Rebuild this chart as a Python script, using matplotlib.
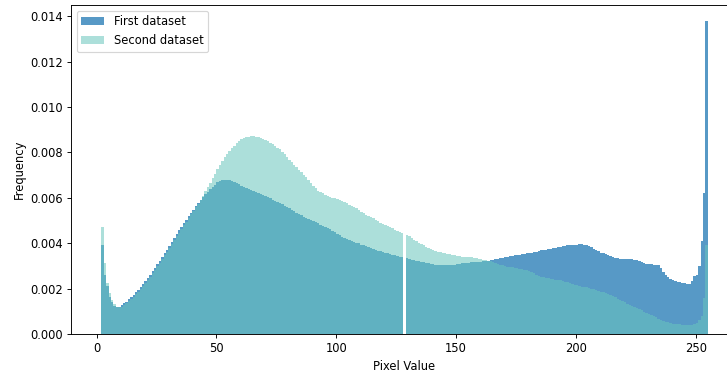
import matplotlib
matplotlib.use("Agg")
import matplotlib.pyplot as plt
import numpy as np

# pixel values (left edge of each bin), bins 2..254
pixels = list(range(2, 255))

# first dataset, normalised frequency per pixel value
first_freq = [
    .00390, .00260, .00210, .00165, .00142, .00125, .00120, .00121, .00127, .00135,  # 2-11
    .00143, .00152, .00162, .00172, .00183, .00195, .00208, .00221, .00234, .00248,  # 12-21
    .00262, .00277, .00292, .00307, .00323, .00339, .00355, .00372, .00389, .00406,  # 22-31
    .00423, .00440, .00456, .00472, .00488, .00504, .00519, .00534, .00548, .00562,  # 32-41
    .00576, .00590, .00603, .00615, .00627, .00638, .00648, .00657, .00668, .00675,  # 42-51
    .00680, .00680, .00679, .00677, .00674, .00670, .00665, .00659, .00653, .00647,  # 52-61
    .00642, .00638, .00634, .00630, .00626, .00622, .00618, .00613, .00608, .00603,  # 62-71
    .00598, .00592, .00586, .00581, .00576, .00571, .00565, .00559, .00553, .00547,  # 72-81
    .00541, .00535, .00529, .00523, .00517, .00512, .00507, .00502, .00497, .00492,  # 82-91
    .00487, .00481, .00476, .00471, .00466, .00461, .00455, .00448, .00441, .00435,  # 92-101
    .00429, .00424, .00419, .00415, .00411, .00407, .00403, .00399, .00394, .00390,  # 102-111
    .00386, .00382, .00378, .00374, .00370, .00367, .00364, .00361, .00358, .00355,  # 112-121
    .00352, .00349, .00346, .00343, .00340, .00337, 0.0, .00333, .00330, .00328,     # 122-131
    .00325, .00323, .00320, .00318, .00316, .00314, .00312, .00310, .00308, .00306,  # 132-141
    .00305, .00304, .00303, .00303, .00303, .00304, .00305, .00306, .00308, .00310,  # 142-151
    .00311, .00312, .00313, .00314, .00315, .00316, .00317, .00318, .00319, .00320,  # 152-161
    .00321, .00323, .00325, .00327, .00329, .00331, .00333, .00336, .00339, .00341,  # 162-171
    .00343, .00345, .00347, .00348, .00350, .00352, .00353, .00355, .00357, .00359,  # 172-181
    .00361, .00363, .00366, .00368, .00370, .00372, .00374, .00376, .00378, .00380,  # 182-191
    .00383, .00385, .00387, .00389, .00390, .00391, .00392, .00393, .00394, .00395,  # 192-201
    .00395, .00394, .00391, .00387, .00382, .00376, .00370, .00364, .00359, .00355,  # 202-211
    .00351, .00347, .00343, .00339, .00336, .00333, .00331, .00330, .00330, .00330,  # 212-221
    .00330, .00329, .00327, .00324, .00320, .00316, .00313, .00310, .00308, .00307,  # 222-231
    .00306, .00305, .00302, .00290, .00275, .00262, .00252, .00244, .00238, .00234,  # 232-241
    .00230, .00227, .00225, .00223, .00222, .00222, .00235, .00255, .00262, .00300,  # 242-251
    .00410, .00620, .01380,                                                          # 252-254
]

# second dataset
second_freq = [
    .00471, .00313, .00225, .00180, .00150, .00130, .00120, .00118, .00121, .00127,  # 2-11
    .00135, .00144, .00154, .00164, .00175, .00187, .00199, .00212, .00225, .00239,  # 12-21
    .00253, .00268, .00283, .00298, .00314, .00330, .00346, .00363, .00380, .00397,  # 22-31
    .00414, .00431, .00447, .00463, .00479, .00495, .00511, .00527, .00543, .00558,  # 32-41
    .00574, .00592, .00610, .00628, .00647, .00666, .00686, .00706, .00726, .00745,  # 42-51
    .00762, .00778, .00792, .00805, .00818, .00830, .00841, .00850, .00857, .00863,  # 52-61
    .00867, .00870, .00871, .00871, .00870, .00867, .00864, .00860, .00855, .00849,  # 62-71
    .00842, .00835, .00828, .00821, .00813, .00803, .00792, .00780, .00768, .00757,  # 72-81
    .00746, .00735, .00724, .00713, .00702, .00691, .00680, .00667, .00654, .00641,  # 82-91
    .00632, .00625, .00619, .00614, .00609, .00605, .00601, .00597, .00593, .00589,  # 92-101
    .00585, .00580, .00575, .00570, .00565, .00560, .00553, .00546, .00539, .00532,  # 102-111
    .00525, .00519, .00514, .00509, .00503, .00497, .00491, .00486, .00481, .00476,  # 112-121
    .00471, .00465, .00460, .00455, .00450, .00445, 0.0, .00437, .00430, .00423,     # 122-131
    .00416, .00409, .00403, .00397, .00391, .00385, .00380, .00375, .00370, .00366,  # 132-141
    .00363, .00360, .00357, .00355, .00353, .00351, .00349, .00347, .00345, .00343,  # 142-151
    .00341, .00340, .00339, .00338, .00337, .00335, .00333, .00331, .00329, .00327,  # 152-161
    .00325, .00323, .00321, .00318, .00314, .00310, .00306, .00302, .00299, .00297,  # 162-171
    .00295, .00293, .00291, .00289, .00287, .00285, .00283, .00280, .00276, .00272,  # 172-181
    .00267, .00262, .00257, .00253, .00250, .00248, .00245, .00243, .00241, .00239,  # 182-191
    .00238, .00236, .00233, .00230, .00227, .00224, .00221, .00218, .00214, .00211,  # 192-201
    .00209, .00207, .00205, .00203, .00200, .00198, .00195, .00191, .00187, .00183,  # 202-211
    .00179, .00175, .00171, .00166, .00161, .00156, .00150, .00144, .00139, .00134,  # 212-221
    .00129, .00124, .00119, .00114, .00109, .00104, .00099, .00093, .00088, .00083,  # 222-231
    .00078, .00073, .00068, .00063, .00059, .00055, .00051, .00048, .00046, .00044,  # 232-241
    .00043, .00042, .00041, .00040, .00040, .00040, .00041, .00044, .00050, .00060,  # 242-251
    .00080, .00160, .00390,                                                          # 252-254
]

edges = np.arange(2, 256)

# drawn at a lower dpi so text and ticks come out at the reference's size
dpi = 83
fig = plt.figure(figsize=(727 / dpi, 370 / dpi), dpi=dpi)
ax = fig.add_axes([0.0977, 0.0973, 0.9175, 0.889])

ax.hist(pixels, bins=edges, weights=first_freq, color='#1f77b4', alpha=0.75,
        label='First dataset')
ax.hist(pixels, bins=edges, weights=second_freq, color='#68c6bd', alpha=0.55,
        label='Second dataset')

ax.set_xlabel('Pixel Value')
ax.set_ylabel('Frequency')
ax.legend(loc='upper left')

fig.savefig('out.png', dpi=dpi)
